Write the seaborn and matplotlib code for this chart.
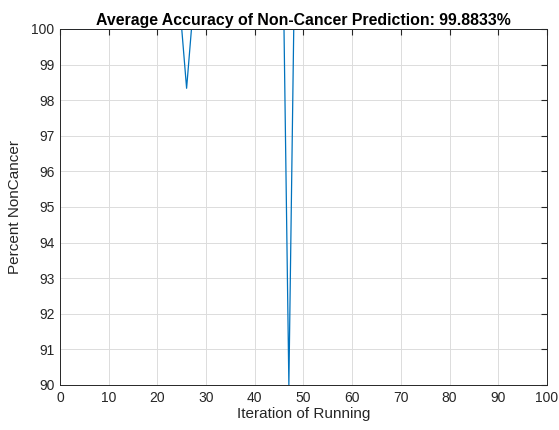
import numpy as np
import pandas as pd
import matplotlib
matplotlib.use("Agg")
import matplotlib.pyplot as plt
import seaborn as sns

# per-iteration accuracy (percent), iterations 1..100
iterations = list(range(1, 101))
percent = [100.0] * 100
percent[25] = 98.3333   # iteration 26
percent[46] = 90.0      # iteration 47

x_ticks = list(range(0, 101, 10))
y_ticks = list(range(90, 101, 1))

df = pd.DataFrame({"iter": iterations, "pct": percent})

sns.set_style("white")
plt.rcParams['font.family'] = ['Liberation Sans', 'DejaVu Sans']

fig = plt.figure(figsize=(5.59, 4.30), dpi=100)
ax = fig.add_axes([0.1073, 0.1047, 0.8712, 0.828])

sns.lineplot(x="iter", y="pct", data=df, color="#0072BD", linewidth=0.9, ax=ax)

ax.set_xlim(0, 100)
ax.set_ylim(90, 100)
ax.set_xticks(x_ticks)
ax.set_yticks(y_ticks)
ax.grid(True, color="#dcdcdc", linewidth=0.7)
ax.tick_params(direction="in", length=4, color="#262626", labelsize=10,
               labelcolor="#262626", top=True, right=True, pad=4)
for s in ax.spines.values():
    s.set_color("#262626")
    s.set_linewidth(0.7)

ax.set_xlabel("Iteration of Running", fontsize=11, color="#262626", labelpad=2)
ax.set_ylabel("Percent NonCancer", fontsize=11, color="#262626", labelpad=7)
ax.set_title("Average Accuracy of Non-Cancer Prediction: 99.8833%",
             fontsize=11.4, fontweight="bold", color="black", pad=3)

fig.savefig("out.png", dpi=100)
